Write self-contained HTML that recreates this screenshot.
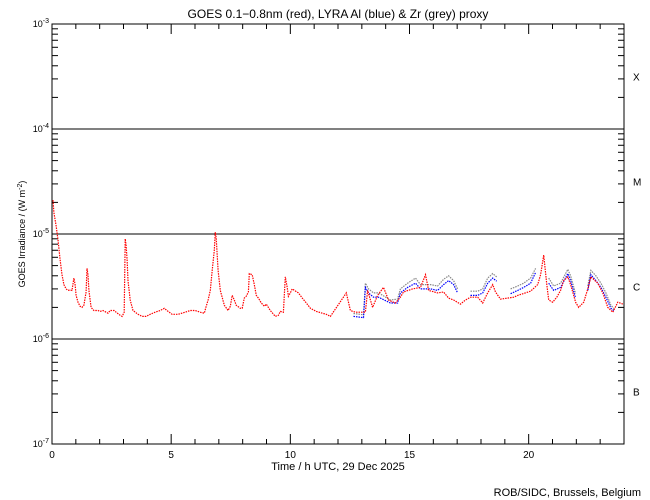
<!DOCTYPE html>
<html><head><meta charset="utf-8"><style>
body{margin:0;background:#fff}
svg{display:block;font-family:"Liberation Sans",sans-serif}
</style></head><body>
<svg id="chart" width="650" height="500" viewBox="0 0 650 500" xmlns="http://www.w3.org/2000/svg">
<rect x="0" y="0" width="650" height="500" fill="#fff"/>
<text x="338" y="18" font-size="12" text-anchor="middle">GOES 0.1−0.8nm (red), LYRA Al (blue) &amp; Zr (grey) proxy</text>
<text x="338" y="470" font-size="11" text-anchor="middle">Time / h UTC, 29 Dec 2025</text>
<text x="641" y="496" font-size="11" text-anchor="end">ROB/SIDC, Brussels, Belgium</text>
<text transform="translate(25,234) rotate(-90)" font-size="9" text-anchor="middle">GOES Irradiance / (W m<tspan baseline-shift="super" font-size="7">-2</tspan>)</text>
<g id="axes"></g>
<g id="series"></g>
</svg>
<script>
const redT=[0.04,0.08,0.17,0.25,0.34,0.42,0.50,0.59,0.67,0.76,0.84,0.92,0.97,1.01,1.09,1.18,1.26,1.34,1.43,1.47,1.51,1.55,1.64,1.76,1.93,2.02,2.14,2.27,2.35,2.44,2.61,2.69,2.86,2.94,3.03,3.07,3.11,3.15,3.19,3.28,3.40,3.61,3.78,3.95,4.12,4.33,4.54,4.71,4.87,5.04,5.29,5.59,5.80,6.01,6.22,6.39,6.47,6.55,6.64,6.72,6.81,6.85,6.89,6.93,6.97,7.06,7.23,7.39,7.48,7.56,7.65,7.73,7.90,7.98,8.07,8.15,8.24,8.28,8.40,8.49,8.57,8.66,8.78,8.91,8.99,9.16,9.37,9.50,9.58,9.71,9.79,9.87,9.92,10.00,10.08,10.17,10.34,10.50,10.67,10.84,11.09,11.34,11.51,11.68,12.35,12.52,12.73,13.15,13.24,13.45,13.66,13.91,14.12,14.41,14.62,14.75,15.13,15.46,15.67,15.80,16.18,16.43,16.64,16.85,17.14,17.35,17.56,17.86,18.07,18.28,18.49,18.61,18.82,19.12,19.37,19.54,20.08,20.38,20.50,20.63,20.76,20.84,21.01,21.18,21.34,21.47,21.64,21.76,21.97,22.10,22.31,22.48,22.61,22.90,23.11,23.32,23.53,23.74,23.95];
const redV=[2.1e-5,1.6e-5,1.2e-5,8.8e-6,5.7e-6,4.1e-6,3.3e-6,3.0e-6,2.9e-6,2.93e-6,2.9e-6,3.8e-6,3.3e-6,2.6e-6,2.24e-6,2.05e-6,2.0e-6,2.1e-6,2.8e-6,4.7e-6,4.1e-6,2.9e-6,2.0e-6,1.87e-6,1.87e-6,1.83e-6,1.87e-6,1.8e-6,1.76e-6,1.87e-6,1.87e-6,1.8e-6,1.68e-6,1.64e-6,1.8e-6,9.0e-6,7.8e-6,5.7e-6,3.6e-6,2.35e-6,1.87e-6,1.72e-6,1.64e-6,1.64e-6,1.72e-6,1.8e-6,1.87e-6,1.96e-6,1.83e-6,1.72e-6,1.72e-6,1.8e-6,1.87e-6,1.87e-6,1.8e-6,1.76e-6,2.05e-6,2.35e-6,2.9e-6,4.5e-6,7.0e-6,1.04e-5,9.2e-6,6.3e-6,4.5e-6,2.9e-6,2.1e-6,1.87e-6,2.05e-6,2.6e-6,2.35e-6,2.1e-6,1.96e-6,1.96e-6,2.45e-6,2.55e-6,2.8e-6,4.2e-6,4.1e-6,3.3e-6,2.6e-6,2.45e-6,2.2e-6,2.05e-6,2.15e-6,1.87e-6,1.64e-6,1.68e-6,1.83e-6,1.8e-6,3.9e-6,3.1e-6,2.55e-6,2.75e-6,3.0e-6,2.9e-6,2.75e-6,2.45e-6,2.2e-6,1.96e-6,1.83e-6,1.76e-6,1.72e-6,1.64e-6,2.75e-6,1.87e-6,1.8e-6,1.8e-6,2.9e-6,2.0e-6,2.6e-6,3.1e-6,2.35e-6,2.2e-6,2.5e-6,2.8e-6,3.0e-6,3.1e-6,4.1e-6,2.9e-6,2.75e-6,2.8e-6,2.45e-6,2.35e-6,2.15e-6,2.35e-6,2.5e-6,2.5e-6,2.2e-6,2.75e-6,3.3e-6,2.8e-6,2.4e-6,2.45e-6,2.5e-6,2.6e-6,2.85e-6,3.3e-6,4.1e-6,6.3e-6,3.3e-6,2.35e-6,2.24e-6,2.5e-6,2.9e-6,3.6e-6,3.9e-6,3.3e-6,2.24e-6,2.0e-6,2.24e-6,3.0e-6,3.9e-6,3.4e-6,2.75e-6,2.0e-6,1.8e-6,2.24e-6,2.15e-6];
const blueT=[12.65,13.07,13.15,13.28,13.49,13.70,14.20,14.50,14.62,14.92,15.25,15.46,15.88,16.18,16.43,16.64,16.85,17.02,17.3,17.56,17.86,18.07,18.28,18.49,18.66,18.9,19.24,19.54,19.79,20.08,20.29,20.6,20.84,21.05,21.34,21.64,21.76,21.97,22.2,22.48,22.61,22.82,23.03,23.24,23.45,23.57];
const blueV=[1.64e-6,1.6e-6,3.1e-6,2.75e-6,2.5e-6,2.5e-6,2.2e-6,2.2e-6,2.75e-6,3.1e-6,3.4e-6,3.0e-6,3.0e-6,2.9e-6,3.3e-6,3.6e-6,3.3e-6,2.75e-6,null,2.6e-6,2.6e-6,2.75e-6,3.4e-6,3.8e-6,3.55e-6,null,2.7e-6,2.9e-6,3.1e-6,3.4e-6,4.3e-6,null,3.4e-6,2.9e-6,3.1e-6,4.2e-6,3.6e-6,2.45e-6,null,2.9e-6,4.1e-6,3.6e-6,3.1e-6,2.5e-6,1.96e-6,1.87e-6];
const greyV=[1.75e-6,1.7e-6,3.4e-6,3.0e-6,2.75e-6,2.75e-6,2.35e-6,2.4e-6,3.0e-6,3.4e-6,3.8e-6,3.3e-6,3.3e-6,3.2e-6,3.7e-6,4.0e-6,3.6e-6,3.0e-6,null,2.85e-6,2.85e-6,3.0e-6,3.8e-6,4.2e-6,3.9e-6,null,3.0e-6,3.2e-6,3.4e-6,3.8e-6,4.7e-6,null,3.8e-6,3.2e-6,3.4e-6,4.6e-6,4.0e-6,2.7e-6,null,3.2e-6,4.5e-6,4.0e-6,3.4e-6,2.75e-6,2.1e-6,1.95e-6];
const xTicks=[0,5,10,15,20];
const yDecades=[-3,-4,-5,-6,-7];
const classLabels=["X","M","C","B"];

const L=52,R=624,T=24,B=444;
const xs=t=>L+(t/24)*(R-L);
const ys=v=>T+(-3-Math.log10(v))*(B-T)/4;
const NS="http://www.w3.org/2000/svg";
const ax=document.getElementById('axes'), se=document.getElementById('series');
function mk(tag,attrs,parent){const e=document.createElementNS(NS,tag);for(const k in attrs)e.setAttribute(k,attrs[k]);parent.appendChild(e);return e;}

const frame=mk('rect',{x:L,y:T,width:R-L,height:B-T,fill:'none',stroke:'#000','stroke-width':1},ax);


// decade lines and labels
yDecades.forEach(d=>{
  const y=ys(Math.pow(10,d));
  if(d<-3&&d>-7){const ln=mk('line',{x1:L,x2:R,y1:y,y2:y,stroke:'#000','stroke-width':1},ax);
    
    }
  const tx=mk('text',{x:L-3,y:y+3,'font-size':9,'text-anchor':'end'},ax);
  
  
  tx.innerHTML='10<tspan dy="-4" font-size="7">'+d+'</tspan>';
  for(let m=2;m<=9;m++){
    const yy=ys(m*Math.pow(10,d-1));
    if(d-1<-7)continue;
    mk('line',{x1:L,x2:L+6,y1:yy,y2:yy,stroke:'#000'},ax);
    mk('line',{x1:R,x2:R-6,y1:yy,y2:yy,stroke:'#000'},ax);
  }
});
// class labels
classLabels.forEach((c,i)=>{
  const y=ys(Math.pow(10,-3-i-0.5));
  const t=mk('text',{x:633,y:y+4,'font-size':10},ax);
  
  
  t.textContent=c;
});
// x ticks
for(let h=0;h<=24;h++){
  const x=xs(h);const len=(h%5===0)?10:5;
  mk('line',{x1:x,x2:x,y1:B,y2:B-len,stroke:'#000'},ax);
  mk('line',{x1:x,x2:x,y1:T,y2:T+len,stroke:'#000'},ax);
}
xTicks.forEach(h=>{
  const t=mk('text',{x:xs(h),y:458,'font-size':10,'text-anchor':'middle'},ax);
  
  
  t.textContent=h;
});
function drawSeries(T_,V,color,name){
  let d='',pen=false;
  for(let i=0;i<T_.length;i++){
    if(V[i]==null){pen=false;continue;}
    d+=(pen?'L':'M')+xs(T_[i]).toFixed(1)+' '+ys(V[i]).toFixed(1)+' ';pen=true;
  }
  const p=mk('path',{d:d,fill:'none',stroke:color,'stroke-width':1.2,'stroke-dasharray':'1.5 1'},se);
  
  
}
drawSeries(blueT,greyV,'#888','zr-grey-series');
drawSeries(blueT,blueV,'#0000ff','al-blue-series');
drawSeries(redT,redV,'#ff0000','goes-red-series');
</script>
</body></html>
